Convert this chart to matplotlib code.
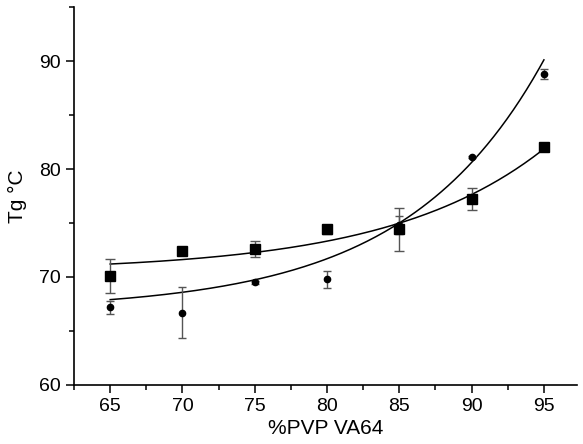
import numpy as np
import matplotlib
matplotlib.use("Agg")
import matplotlib.pyplot as plt

plt.rcParams['font.family'] = ['Liberation Sans', 'DejaVu Sans']

pvp = [65, 70, 75, 80, 85, 90, 95]
tg_square = [70.1, 72.4, 72.6, 74.4, 74.4, 77.2, 82.0]
err_square = [1.6, 0.25, 0.75, 0.45, 2.0, 1.0, 0.2]
tg_circle = [67.2, 66.7, 69.5, 69.8, 74.8, 81.1, 88.8]
err_circle = [0.6, 2.35, 0.15, 0.8, 0.85, 0.1, 0.45]

# exponential fit parameters y = y0 + A*exp(B*(x-65))
fit_square = (70.5, 0.70, 0.0929)
fit_circle = (66.92, 0.982, 0.1054)

fig = plt.figure(figsize=(5.83, 4.44), dpi=100)
ax = fig.add_axes([0.127, 0.133, 0.863, 0.851])

xf = np.linspace(65, 95, 200)
for (y0, A, B) in (fit_square, fit_circle):
    ax.plot(xf, y0 + A * np.exp(B * (xf - 65)), color='black', lw=1.1, zorder=2)

ax.errorbar(pvp, tg_square, yerr=err_square, fmt='s', color='black', ms=7.5,
            ecolor='#555555', elinewidth=1, capsize=3.5, capthick=1, zorder=3)
ax.errorbar(pvp, tg_circle, yerr=err_circle, fmt='o', color='black', ms=4.5,
            ecolor='#555555', elinewidth=1, capsize=3, capthick=1, zorder=3)

ax.set_xlim(62.5, 97.3)
ax.set_ylim(60, 95)
ax.set_xticks(pvp)
ax.set_xticks([62.5, 67.5, 72.5, 77.5, 82.5, 87.5, 92.5], minor=True)
ax.set_yticks([60, 70, 80, 90])
ax.set_yticks([65, 75, 85, 95], minor=True)
ax.spines['top'].set_visible(False)
ax.spines['right'].set_visible(False)
for s in ('left', 'bottom'):
    ax.spines[s].set_linewidth(1.2)
ax.tick_params(which='major', direction='out', length=6, width=1.1, labelsize=14)
ax.tick_params(which='minor', direction='out', length=3.5, width=1.1)
ax.set_xlabel('%PVP VA64', fontsize=15, labelpad=3)
ax.set_ylabel('Tg °C', fontsize=15, labelpad=9)

fig.savefig('out.png', dpi=100)
